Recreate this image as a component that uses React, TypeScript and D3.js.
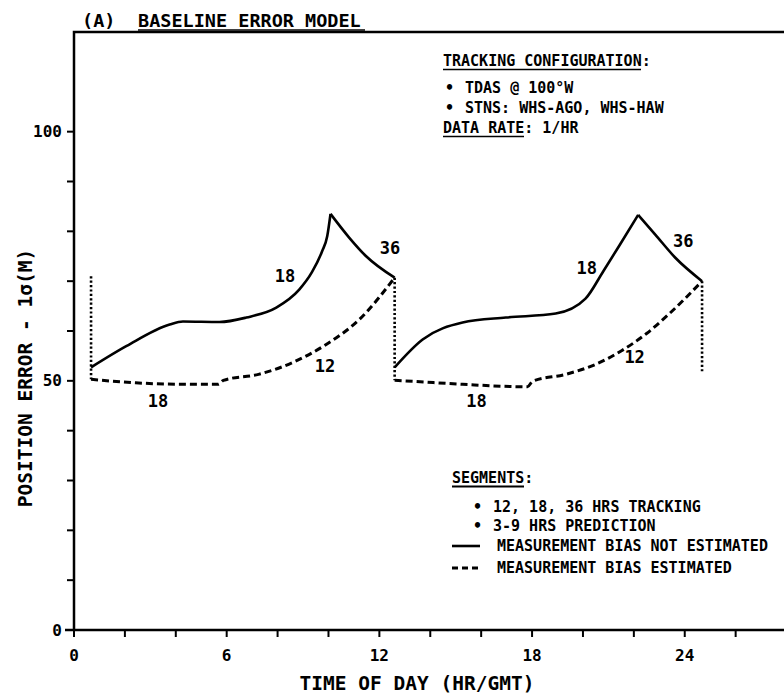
import * as d3 from 'd3'

type Pt = [number, number] // [hour GMT, position error 1σ (m)]
type Handover = [number, number, number] // [hour, error before, error after]

const xTicks = [0, 2, 4, 6, 8, 10, 12, 14, 16, 18, 20, 22, 24, 26]
const xLabels = [0, 6, 12, 18, 24]
const yTicks = [0, 10, 20, 30, 40, 50, 60, 70, 80, 90, 100]
const yLabels = [0, 50, 100]

// measurement bias NOT estimated (solid), split at the peak so the cusp stays sharp
const notEstRise1: Pt[] = [
  [0.67, 52.7], [2.07, 57], [3.76, 61.3], [4.28, 61.9], [5.72, 61.8], [6.77, 62.7],
  [7.95, 64.7], [8.85, 68.3], [9.35, 71.8], [9.75, 76], [9.95, 79], [10.08, 83.5],
]
const notEstFall1: Pt[] = [[10.08, 83.5], [10.82, 78.7], [11.48, 75], [12.6, 70.7]]
const notEstRise2: Pt[] = [
  [12.6, 52.7], [13.7, 58.3], [15.27, 61.7], [16.97, 62.7], [18.93, 63.5], [20.1, 66.5],
  [20.8, 72], [21.45, 77.3], [22.17, 83.3],
]
const notEstFall2: Pt[] = [[22.17, 83.3], [22.85, 79.3], [23.63, 74.7], [24.68, 70]]

// measurement bias estimated (dashed)
const estimated1: Pt[] = [
  [0.67, 50.3], [2.42, 49.6], [4.42, 49.3], [5.67, 49.3], [5.87, 50.1], [7.25, 51.3],
  [8.6, 53.7], [9.91, 57.3], [11.21, 62.3], [12.6, 70.7],
]
const estimated2: Pt[] = [
  [12.6, 50.1], [13.3, 49.9], [15.27, 49.3], [17.82, 48.8], [18.02, 49.9], [19.32, 51.3],
  [20.5, 53.3], [21.5, 56], [22.5, 59.5], [23.4, 63.5], [24.68, 70],
]

// dotted jumps between tracking segments
const handovers: Handover[] = [[0.67, 71, 50.3], [12.6, 70.7, 50.1], [24.68, 70, 51.7]]

// segment length labels (hrs of tracking)
const segLabels = [
  { text: '18', hour: 8.29, err: 71 },
  { text: '36', hour: 12.42, err: 76.7 },
  { text: '12', hour: 9.86, err: 53 },
  { text: '18', hour: 3.3, err: 46 },
  { text: '18', hour: 20.15, err: 72.7 },
  { text: '36', hour: 23.94, err: 78 },
  { text: '12', hour: 22.03, err: 54.7 },
  { text: '18', hour: 15.82, err: 46 },
]

const font = "'DejaVu Sans Mono', monospace"

export default function App() {
  const width = 784
  const height = 700

  const x = d3.scaleLinear().domain([0, 27.9]).range([74, 784])
  const y = d3.scaleLinear().domain([0, 120]).range([630, 32])

  const line = d3
    .line<Pt>()
    .x((d) => x(d[0]))
    .y((d) => y(d[1]))
    .curve(d3.curveMonotoneX)

  const x0 = x(0)
  const yTop = y(120)

  return (
    <svg
      width={width}
      height={height}
      style={{ position: 'absolute', left: 0, top: 0, background: '#fff' }}
      fontFamily={font}
      fontWeight="bold"
      fill="#000"
    >
      {/* title */}
      <text x={82} y={27} fontSize={18.5}>(A)</text>
      <text x={138} y={27} fontSize={18.5}>BASELINE ERROR MODEL</text>
      <line x1={138} x2={365} y1={30} y2={30} stroke="#000" strokeWidth={1.5} />

      {/* frame: left axis + top line */}
      <path d={`M${x0},${y(0)}V${yTop}H${width}`} fill="none" stroke="#000" strokeWidth={2.5} />

      {/* x axis */}
      <g>
        <line x1={x0 - 9} x2={width} y1={y(0)} y2={y(0)} stroke="#000" strokeWidth={2.5} />
        {xTicks.map((t) => (
          <line key={t} x1={x(t)} x2={x(t)} y1={y(0)} y2={y(0) + 7} stroke="#000" strokeWidth={2} />
        ))}
        {xLabels.map((t) => (
          <text key={t} x={x(t)} y={y(0) + 31} textAnchor="middle" fontSize={16}>
            {t}
          </text>
        ))}
        <text x={417} y={690} textAnchor="middle" fontSize={19.5}>
          TIME OF DAY (HR/GMT)
        </text>
      </g>

      {/* y axis */}
      <g>
        {yTicks.map((t) => (
          <line key={t} x1={x0 - 7} x2={x0} y1={y(t)} y2={y(t)} stroke="#000" strokeWidth={2} />
        ))}
        {yLabels.map((t) => (
          <text key={t} x={x0 - 12} y={y(t)} dy="0.35em" textAnchor="end" fontSize={16}>
            {t}
          </text>
        ))}
        <text transform={`translate(32,378) rotate(-90)`} textAnchor="middle" fontSize={19.5}>
          POSITION ERROR - 1σ(M)
        </text>
      </g>

      {/* curves */}
      <g fill="none" stroke="#000">
        {[notEstRise1, notEstFall1, notEstRise2, notEstFall2].map((d, i) => (
          <path key={i} d={line(d)!} strokeWidth={2.6} />
        ))}
        {[estimated1, estimated2].map((d, i) => (
          <path key={i} d={line(d)!} strokeWidth={3} strokeDasharray="7 4" />
        ))}
        {handovers.map(([h, a, b], i) => (
          <line key={i} x1={x(h)} x2={x(h)} y1={y(a)} y2={y(b)} strokeWidth={2.6} strokeDasharray="2.2 2.2" />
        ))}
      </g>
      {segLabels.map((s, i) => (
        <text key={i} x={x(s.hour)} y={y(s.err)} dy="0.35em" textAnchor="middle" fontSize={17}>
          {s.text}
        </text>
      ))}

      {/* tracking configuration note */}
      <g fontSize={15}>
        <text x={443} y={66}>TRACKING CONFIGURATION:</text>
        <line x1={443} x2={641} y1={69.5} y2={69.5} stroke="#000" strokeWidth={1.5} />
        <text x={445} y={93}>•</text>
        <text x={465} y={93}>TDAS @ 100°W</text>
        <text x={445} y={113}>•</text>
        <text x={465} y={113}>STNS:  WHS-AGO, WHS-HAW</text>
        <text x={443} y={133}>DATA RATE:  1/HR</text>
        <line x1={443} x2={524} y1={136.5} y2={136.5} stroke="#000" strokeWidth={1.5} />
      </g>

      {/* segments legend */}
      <g fontSize={15}>
        <text x={452} y={483}>SEGMENTS:</text>
        <line x1={452} x2={524} y1={486.5} y2={486.5} stroke="#000" strokeWidth={2} />
        <text x={473} y={512}>•</text>
        <text x={493} y={512}>12, 18, 36 HRS TRACKING</text>
        <text x={473} y={531}>•</text>
        <text x={493} y={531}>3-9 HRS PREDICTION</text>
        <line x1={452} x2={480} y1={546} y2={546} stroke="#000" strokeWidth={2.6} />
        <text x={497} y={551}>MEASUREMENT BIAS NOT ESTIMATED</text>
        <line x1={452} x2={478} y1={568} y2={568} stroke="#000" strokeWidth={3} strokeDasharray="6 4" />
        <text x={497} y={573}>MEASUREMENT BIAS ESTIMATED</text>
      </g>
    </svg>
  )
}
